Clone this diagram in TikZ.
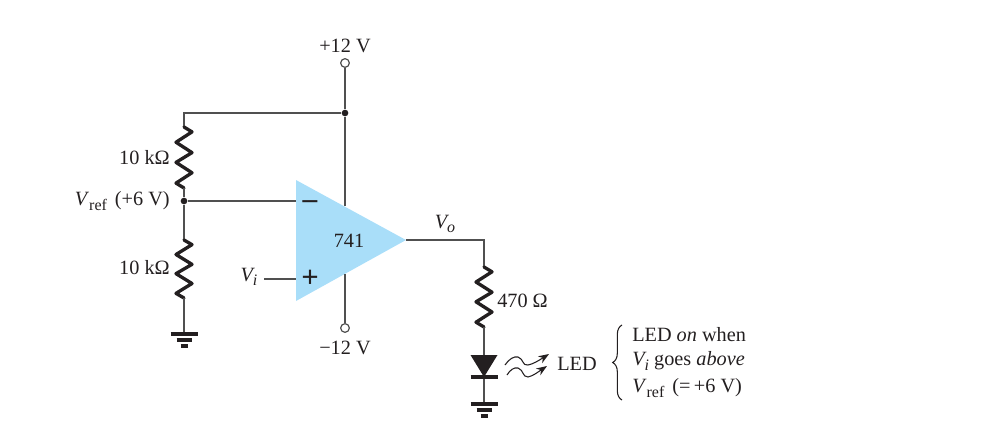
\documentclass[tikz,border=0pt]{standalone}
\usepackage{fontspec}
\setmainfont{Liberation Serif}
\usetikzlibrary{calc}
\usetikzlibrary{arrows.meta}
\usetikzlibrary{decorations.pathreplacing}
\definecolor{wirecol}{HTML}{505050}
\definecolor{opampcol}{HTML}{A9DEF9}
\definecolor{inkcol}{HTML}{231F20}
\tikzset{
  wire/.style={draw=wirecol, line width=1.1pt},
  resistor/.style={draw=inkcol, line width=2.5pt, line join=round, line cap=round},
  dotnode/.style={circle, fill=inkcol, inner sep=0pt, minimum size=5},
  opennode/.style={circle, draw=wirecol, fill=white, line width=.9pt, inner sep=0pt, minimum size=6.5},
  lbl/.style={text=inkcol, font=\fontsize{15.2}{18}\selectfont, inner sep=0pt},
  gndbar/.style={draw=inkcol, line width=2.4pt},
  glow/.style={draw=inkcol, line width=.8pt, -{Stealth[length=8pt,width=6pt]}},
}
\newcommand{\gndsym}[1]{
\draw[gndbar] ($(#1)+(-13.5,0)$) -- ($(#1)+(13.5,0)$);
\draw[gndbar] ($(#1)+(-7.5,6)$) -- ($(#1)+(7.5,6)$);
\draw[gndbar] ($(#1)+(-3.5,12)$) -- ($(#1)+(3.5,12)$);
}
\newcommand{\zigres}[2]{
\draw[resistor] (#1) -- ($(#1)!.08!(#2)+(8,0)$) -- ($(#1)!.25!(#2)+(-8,0)$) -- ($(#1)!.42!(#2)+(8,0)$) -- ($(#1)!.58!(#2)+(-8,0)$) -- ($(#1)!.75!(#2)+(8,0)$) -- ($(#1)!.92!(#2)+(-8,0)$) -- (#2);
}
\newcommand{\subtxt}[1]{\raisebox{-3.4pt}{\fontsize{12}{12}\selectfont #1}}
\begin{document}
\begin{tikzpicture}[x=.75pt, y=-.75pt]
\useasboundingbox (0,0) rectangle (989,436);
% op-amp
\coordinate (OA) at (296,180);
\coordinate (OB) at (296,301);
\coordinate (OC) at (406,240);
\fill[opampcol] (OA) -- (OC) -- (OB) -- cycle;
\node[lbl] (amp) at (349,241) {741};
\node[lbl, font=\fontsize{22}{22}\selectfont\bfseries] (minus) at (310,205) {–};
\node[lbl, font=\fontsize{23}{23}\selectfont\bfseries] (plus) at (310,279) {+};
% supply
\node[opennode] (vcc) at (345,63) {};
\node[dotnode] (top) at (345,113) {};
\node[opennode] (vee) at (345,328) {};
\coordinate (vccin) at (345,206);
\coordinate (veein) at (345,274);
\coordinate (topl) at (184,113);
\draw[wire] (vcc) -- (top) -- (vccin);
\draw[wire] (veein) -- (vee);
\node[lbl] (vcclbl) at (345,46) {+12 V};
\node[lbl] (veelbl) at (345,348) {−12 V};
% divider
\node[dotnode] (ref) at (184,201) {};
\coordinate (R1a) at (184,127);
\coordinate (R1b) at (184,188);
\coordinate (R2a) at (184,240);
\coordinate (R2b) at (184,298);
\coordinate (gndA) at (184,334);
\coordinate (inm) at (296,201);
\draw[wire] (top) -- (topl) -- (R1a);
\zigres{R1a}{R1b}
\draw[wire] (R1b) -- (ref) -- (R2a);
\zigres{R2a}{R2b}
\draw[wire] (R2b) -- (gndA);
\draw[wire] (ref) -- (inm);
\gndsym{gndA}
\node[lbl, anchor=east] (r1lbl) at (170,158) {10 kΩ};
\node[lbl, anchor=east] (r2lbl) at (170,268) {10 kΩ};
\node[lbl, anchor=east] (reflbl) at (170,201) {\textit{V}\subtxt{ref}\hspace{6pt}(+6 V)};
% input
\node[lbl] (vi) at (249,277) {\textit{V\subtxt{i}}};
\coordinate (inp) at (296,279);
\coordinate (vistart) at (264,279);
\draw[wire] (vistart) -- (inp);
% output
\coordinate (vobend) at (484,240);
\coordinate (R3a) at (484,267);
\coordinate (R3b) at (484,327);
\coordinate (Da) at (484,355);
\coordinate (Db) at (484,377);
\coordinate (gndB) at (484,404);
\draw[wire] (OC) -- (vobend) -- (R3a);
\zigres{R3a}{R3b}
\draw[wire] (R3b) -- (Da);
\draw[wire] (Db) -- (gndB);
\gndsym{gndB}
\node[lbl] (volbl) at (445,224) {\textit{V\subtxt{o}}};
\node[lbl, anchor=west] (r3lbl) at (497,301) {470 Ω};
% led
\fill[inkcol] ($(Da)+(-13.5,0)$) -- ($(Da)+(13.5,0)$) -- (Db) -- cycle;
\draw[gndbar] ($(Db)+(-13.5,0)$) -- ($(Db)+(13.5,0)$);
\coordinate (g1a) at (505,365);
\coordinate (g1b) at (549,354);
\coordinate (g2a) at (507,375);
\coordinate (g2b) at (547,366);
\draw[glow] (g1a) .. controls (509,359) and (514,356) .. (518,357) .. controls (524,359) and (522,366) .. (528,365) .. controls (533,364) and (538,361) .. (g1b);
\draw[glow] (g2a) .. controls (510,370) and (514,367) .. (518,368) .. controls (524,370) and (522,377) .. (528,377) .. controls (533,376) and (538,372) .. (g2b);
\node[lbl] (ledlbl) at (577,364) {LED};
% note
\coordinate (bra) at (622,400);
\coordinate (brb) at (622,325);
\draw[draw=inkcol, line width=.8pt, decorate, decoration={brace, amplitude=7}] (bra) -- (brb);
\node[lbl, anchor=west] (n1) at (632,335) {LED \textit{on} when};
\node[lbl, anchor=west] (n2) at (632,361) {\textit{V\subtxt{i}} goes \textit{above}};
\node[lbl, anchor=west] (n3) at (632,388) {\textit{V}\subtxt{ref}\hspace{6pt}(=\,+6 V)};
\end{tikzpicture}
\end{document}
